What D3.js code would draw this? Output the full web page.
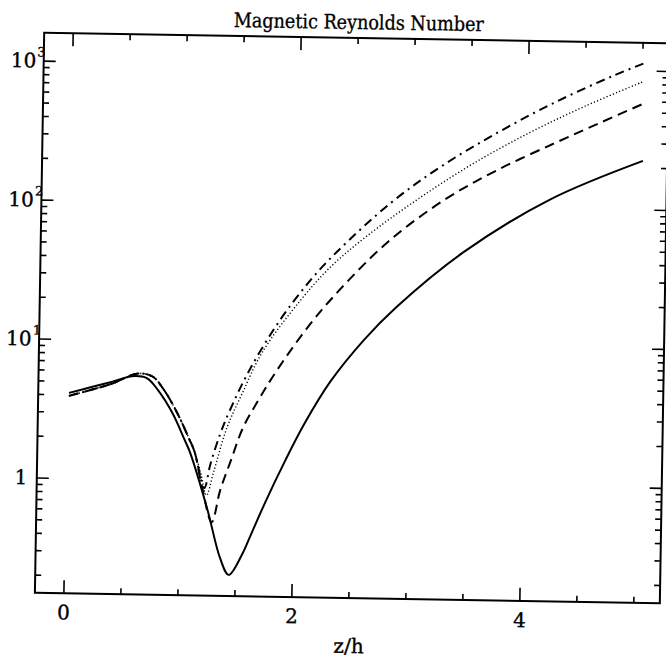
<!DOCTYPE html>
<html><head><meta charset="utf-8">
<script src="https://cdn.jsdelivr.net/npm/d3@7"></script>
<style>body{margin:0;background:#fff}svg{display:block}</style>
</head><body>
<svg id="chart" width="666" height="658"></svg>
<script>
// ---- data ----
const solidZ  = [0.02, 0.2, 0.4, 0.57, 0.7, 0.8, 0.93, 1.04, 1.09, 1.25, 1.37, 1.447, 1.56, 1.63, 1.755, 1.925, 2.09, 2.31, 2.6, 2.88, 3.46, 4.21, 5.02];
const solidRm = [4.1, 4.5, 5.0, 5.5, 5.35, 4.4, 3.02, 1.95, 1.58, 0.62, 0.275, 0.21, 0.294, 0.4, 0.70, 1.41, 2.63, 5.3, 10.7, 18.6, 47, 115, 224];

const dashedZ  = [0.02, 0.2, 0.4, 0.62, 0.75, 0.85, 0.97, 1.08, 1.13, 1.2, 1.29, 1.36, 1.45, 1.55, 1.68, 1.84, 2.12, 2.38, 2.8, 3.29, 3.75, 4.25, 4.65, 5.01];
const dashedRm = [3.9, 4.3, 4.85, 5.75, 5.5, 4.45, 3.05, 1.98, 1.6, 0.9, 0.5, 0.85, 1.4, 2.4, 3.8, 6.3, 13.5, 24.4, 55, 112, 186, 295, 420, 575];

const dottedZ  = [0.02, 0.2, 0.4, 0.62, 0.75, 0.85, 0.97, 1.08, 1.13, 1.19, 1.24, 1.30, 1.41, 1.54, 1.71, 2.03, 2.29, 2.6, 3.04, 3.5, 4.0, 4.5, 5.01];
const dottedRm = [3.9, 4.3, 4.85, 5.75, 5.5, 4.45, 3.05, 1.98, 1.6, 1.1, 0.78, 1.15, 2.4, 4.27, 8.5, 19.9, 35.1, 58.9, 110, 197, 339, 543, 832];

const dashDotZ  = [0.02, 0.2, 0.4, 0.62, 0.75, 0.85, 0.97, 1.08, 1.13, 1.22, 1.27, 1.35, 1.43, 1.6, 1.86, 2.12, 2.35, 2.82, 3.25, 3.75, 4.25, 4.75, 5.01];
const dashDotRm = [3.9, 4.3, 4.85, 5.75, 5.5, 4.45, 3.05, 1.98, 1.6, 0.88, 1.3, 2.14, 3.16, 6.3, 14.5, 28.2, 45.7, 105, 193, 347, 582, 912, 1122];

const xMajorTicks = [0, 2, 4];
const xMinorTicks = [0.5, 1, 1.5, 2.5, 3, 3.5, 4.5, 5];
const xTickLabels = ["0", "2", "4"];
const yMajorTicks = [1, 10, 100, 1000];
const yTickBase   = ["1", "10", "10", "10"];
const yTickExp    = ["", "1", "2", "3"];
const titleText = "Magnetic Reynolds Number";
const xLabel = "z/h";

// ---- layout ----
const L = 39.5, R = 666.5, T = 38, B = 598;
const FONT = "'DejaVu Serif', 'Liberation Serif', serif";

const x = d3.scaleLinear().domain([-0.25, 5.25]).range([L, R]);
const y = d3.scaleLog().domain([0.148, 1585]).range([B, T]);

const yMinorTicks = [];
for (let e = -1; e <= 3; e++) for (let k = 2; k <= 9; k++) {
  const v = k * Math.pow(10, e);
  if (v >= 0.148 && v <= 1585) yMinorTicks.push(v);
}

const svg = d3.select("#chart");
svg.append("rect").attr("width", 666).attr("height", 658).attr("fill", "#fff");
const g = svg.append("g").attr("transform", "rotate(0.95,352,318)");

function styleAxis(sel) {
  sel.select(".domain").remove();
  sel.selectAll(".tick line").attr("stroke", "#000").attr("stroke-width", 1.6);
}
function styleText(sel) {
  sel.attr("font-family", FONT).attr("fill", "#000").attr("stroke", "#000").attr("stroke-width", 0.35);
}

// bottom
g.append("g").attr("transform", `translate(0,${B})`)
  .call(d3.axisBottom(x).tickValues(xMinorTicks).tickSize(-6).tickFormat(""))
  .call(styleAxis);
g.append("g").attr("transform", `translate(0,${B})`)
  .call(d3.axisBottom(x).tickValues(xMajorTicks).tickSize(-13).tickPadding(12)
    .tickFormat((d, i) => xTickLabels[i]))
  .call(styleAxis)
  .call(s => s.selectAll("text").call(styleText).attr("font-size", 20));
// top
g.append("g").attr("transform", `translate(0,${T})`)
  .call(d3.axisTop(x).tickValues(xMinorTicks).tickSize(-6).tickFormat(""))
  .call(styleAxis);
g.append("g").attr("transform", `translate(0,${T})`)
  .call(d3.axisTop(x).tickValues(xMajorTicks).tickSize(-13).tickFormat(""))
  .call(styleAxis);
// left
g.append("g").attr("transform", `translate(${L},0)`)
  .call(d3.axisLeft(y).tickValues(yMinorTicks).tickSize(-6).tickFormat(""))
  .call(styleAxis);
g.append("g").attr("transform", `translate(${L},0)`)
  .call(d3.axisLeft(y).tickValues(yMajorTicks).tickSize(-12).tickFormat(""))
  .call(styleAxis);
// right
g.append("g").attr("transform", `translate(${R - 2},0)`)
  .call(d3.axisRight(y).tickValues(yMinorTicks).tickSize(-6).tickFormat(""))
  .call(styleAxis);
g.append("g").attr("transform", `translate(${R - 2},0)`)
  .call(d3.axisRight(y).tickValues(yMajorTicks).tickSize(-12).tickFormat(""))
  .call(styleAxis);

// frame
g.append("rect").attr("x", L).attr("y", T).attr("width", R - 2 - L).attr("height", B - T)
  .attr("fill", "none").attr("stroke", "#000").attr("stroke-width", 2);

// y labels
yMajorTicks.forEach((v, i) => {
  const yy = y(v) + 7;
  g.append("text").attr("x", yTickExp[i] ? 32 : 30).attr("y", yy)
    .attr("text-anchor", "end").attr("font-size", 20).call(styleText).text(yTickBase[i]);
  if (yTickExp[i]) {
    g.append("text").attr("x", 33).attr("y", yy - 11)
      .attr("font-size", 13).call(styleText).text(yTickExp[i]);
  }
});

// title & x label
g.append("text").attr("x", 354).attr("y", 29).attr("text-anchor", "middle")
  .attr("font-size", 20).call(styleText)
  .attr("textLength", 250).attr("lengthAdjust", "spacingAndGlyphs").text(titleText);
g.append("text").attr("x", 354).attr("y", 653).attr("text-anchor", "middle")
  .attr("font-size", 20).call(styleText).text(xLabel);

// curves
const line = d3.line().x(d => x(d[0])).y(d => y(d[1])).curve(d3.curveCatmullRom.alpha(0.5));
const series = [
  {z: solidZ, v: solidRm, dash: null, w: 2},
  {z: dashedZ, v: dashedRm, dash: "10,6", w: 2},
  {z: dottedZ, v: dottedRm, dash: "1.2,2.2", w: 1.4},
  {z: dashDotZ, v: dashDotRm, dash: "9,5,2,5", w: 2}
];
series.forEach(s => {
  g.append("path").datum(s.z.map((z, i) => [z, s.v[i]]))
    .attr("d", line).attr("fill", "none").attr("stroke", "#000")
    .attr("stroke-width", s.w).attr("stroke-dasharray", s.dash);
});
</script>
</body></html>
